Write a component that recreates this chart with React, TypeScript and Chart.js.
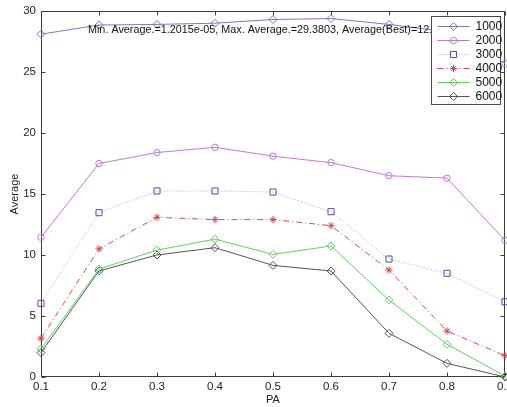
import React, { useEffect, useRef } from "react";
import { Chart, registerables } from "chart.js";

Chart.register(...registerables);

// PA values along the x axis
const PA = [0.1, 0.2, 0.3, 0.4, 0.5, 0.6, 0.7, 0.8, 0.9];
const Y_TICKS = [0, 5, 10, 15, 20, 25, 30];

// Average per PA for each population size
const S1000 = [28.1, 28.85, 28.9, 29.0, 29.3, 29.3803, 28.9, 28.3, 25.7];
const S2000 = [11.45, 17.5, 18.4, 18.83, 18.1, 17.57, 16.5, 16.3, 11.2];
const S3000 = [6.04, 13.47, 15.25, 15.25, 15.16, 13.55, 9.67, 8.5, 6.17];
const S4000 = [3.17, 10.5, 13.09, 12.9, 12.9, 12.4, 8.77, 3.77, 1.75];
const S5000 = [2.3, 8.85, 10.4, 11.3, 10.05, 10.74, 6.3, 2.68, 0.08];
const S6000 = [2.0, 8.7, 10.0, 10.6, 9.15, 8.69, 3.58, 1.12, 0.000012015];

const SERIES_LABELS = ["1000", "2000", "3000", "4000", "5000", "6000"];
const NOTE =
  "Min. Average.=1.2015e-05, Max. Average.=29.3803, Average(Best)=12.3456";

const FONT = "'Liberation Sans', Arial, Helvetica, sans-serif";
const CANVAS_W = 520;
const CANVAS_H = 407;

const toPoints = (vals: number[]) => vals.map((v, i) => ({ x: PA[i], y: v }));

// Box around the axes with inward tick marks on all four sides
const framePlugin = {
  id: "frame",
  beforeDatasetsDraw(chart: any) {
    const { ctx, chartArea } = chart;
    const { left, right, top, bottom } = chartArea;
    const xs = chart.scales.x;
    const ys = chart.scales.y;
    const L = Math.round(left) + 0.5;
    const R = Math.round(right) - 0.5;
    const T = Math.round(top) + 0.5;
    const B = Math.round(bottom) - 0.5;
    ctx.save();
    ctx.strokeStyle = "#3c3c3c";
    ctx.lineWidth = 1;
    ctx.beginPath();
    ctx.rect(L, T, R - L, B - T);
    const tl = 4;
    PA.forEach((v) => {
      const px = Math.round(xs.getPixelForValue(v)) + 0.5;
      ctx.moveTo(px, B);
      ctx.lineTo(px, B - tl);
      ctx.moveTo(px, T);
      ctx.lineTo(px, T + tl);
    });
    Y_TICKS.forEach((v) => {
      const py = Math.round(ys.getPixelForValue(v)) + 0.5;
      ctx.moveTo(L, py);
      ctx.lineTo(L + tl, py);
      ctx.moveTo(R, py);
      ctx.lineTo(R - tl, py);
    });
    ctx.stroke();
    ctx.restore();
  },
};

// Summary text inside the axes, then the legend box on top of it
const overlayPlugin = {
  id: "overlay",
  afterDatasetsDraw(chart: any) {
    const { ctx, chartArea } = chart;
    const xs = chart.scales.x;
    const ys = chart.scales.y;
    ctx.save();
    ctx.font = `10.8px ${FONT}`;
    ctx.fillStyle = "#111";
    ctx.textBaseline = "middle";
    ctx.textAlign = "left";
    ctx.fillText(NOTE, xs.getPixelForValue(0.181), ys.getPixelForValue(28.45));

    // legend
    const bw = 69;
    const bh = 88;
    const bx = Math.round(chartArea.right) - 5 - bw + 0.5;
    const by = Math.round(chartArea.top) + 5 + 0.5;
    ctx.fillStyle = "#ffffff";
    ctx.fillRect(bx, by, bw, bh);
    ctx.strokeStyle = "#4a4a4a";
    ctx.lineWidth = 1;
    ctx.strokeRect(bx, by, bw, bh);

    chart.data.datasets.forEach((ds: any, i: number) => {
      const cy = Math.round(by + 9 + i * 14) + 0.5;
      ctx.save();
      ctx.strokeStyle = ds.borderColor;
      ctx.lineWidth = 1;
      ctx.setLineDash(ds.borderDash || []);
      ctx.beginPath();
      ctx.moveTo(bx + 6, cy);
      ctx.lineTo(bx + 38, cy);
      ctx.stroke();
      ctx.restore();
      const el = chart.getDatasetMeta(i).data[0];
      if (el) {
        // reuse the dataset's own point element for the legend marker
        const saveX = el.x;
        const saveY = el.y;
        el.x = bx + 22;
        el.y = cy;
        el.draw(ctx, { left: 0, top: 0, right: CANVAS_W, bottom: CANVAS_H });
        el.x = saveX;
        el.y = saveY;
      }
      ctx.fillStyle = "#111";
      ctx.font = `12px ${FONT}`;
      ctx.textBaseline = "middle";
      ctx.textAlign = "left";
      ctx.fillText(SERIES_LABELS[i], bx + 44, cy + 0.5);
    });
    ctx.restore();
  },
};

export default function App() {
  const ref = useRef<HTMLCanvasElement | null>(null);

  useEffect(() => {
    if (!ref.current) return;
    const mk = (
      label: string,
      vals: number[],
      line: string,
      marker: string,
      style: string,
      radius: number,
      dash: number[] = []
    ) => ({
      label,
      data: toPoints(vals),
      borderColor: line,
      borderWidth: 1,
      borderDash: dash,
      pointStyle: style,
      pointRadius: radius,
      pointBorderColor: marker,
      pointBackgroundColor: "rgba(0,0,0,0)",
      pointBorderWidth: 1,
      tension: 0,
      fill: false,
      clip: false,
    });

    const tickFont = { family: FONT, size: 11.5 };
    const titleFont = { family: FONT, size: 11 };

    const chart = new Chart(ref.current, {
      type: "line",
      data: {
        datasets: [
          mk("1000", S1000, "#7a7ac4", "#7a7ac4", "rectRot", 4),
          mk("2000", S2000, "#c477d8", "#c477d8", "circle", 3.2),
          mk("3000", S3000, "#a8a8c8", "#4f4fa6", "rect", 4.3, [1, 2]),
          mk("4000", S4000, "#d05050", "#d04040", "star", 3.6, [6, 3, 1, 3]),
          mk("5000", S5000, "#62d062", "#62d062", "rectRot", 4),
          mk("6000", S6000, "#555555", "#555555", "rectRot", 4),
        ] as any,
      },
      options: {
        responsive: false,
        animation: false,
        devicePixelRatio: 1,
        layout: { padding: { top: 11, right: CANVAS_W - 505, left: 0, bottom: 0 } },
        plugins: {
          legend: { display: false },
          tooltip: { enabled: false },
        },
        scales: {
          x: {
            type: "linear",
            min: 0.1,
            max: 0.9,
            grid: { display: false, drawTicks: false, tickLength: 0 },
            border: { display: false },
            ticks: {
              color: "#222",
              font: tickFont,
              padding: 3,
              maxRotation: 0,
              callback: (v: any) => String(Math.round(Number(v) * 10) / 10),
            },
            afterBuildTicks: (s: any) => {
              s.ticks = PA.map((v) => ({ value: v }));
            },
            afterFit: (s: any) => {
              s.height = 30;
              s.paddingLeft = 0;
              s.paddingRight = 0;
            },
            title: {
              display: true,
              text: "PA",
              color: "#222",
              font: titleFont,
              padding: { top: 0, bottom: 0 },
            },
          },
          y: {
            type: "linear",
            min: 0,
            max: 30,
            grid: { display: false, drawTicks: false, tickLength: 0 },
            border: { display: false },
            ticks: {
              color: "#222",
              font: tickFont,
              padding: 5,
            },
            afterBuildTicks: (s: any) => {
              s.ticks = Y_TICKS.map((v) => ({ value: v }));
            },
            afterFit: (s: any) => {
              s.width = 41;
              s.paddingTop = 0;
              s.paddingBottom = 0;
            },
            title: {
              display: true,
              text: "Average",
              color: "#222",
              font: titleFont,
              padding: { top: 8, bottom: 0 },
            },
          },
        },
      } as any,
      plugins: [framePlugin, overlayPlugin],
    });
    return () => chart.destroy();
  }, []);

  return (
    <div
      style={{
        position: "fixed",
        left: 0,
        top: 0,
        width: 507,
        height: 407,
        overflow: "hidden",
        background: "#fff",
      }}
    >
      <canvas
        ref={ref}
        width={CANVAS_W}
        height={CANVAS_H}
        style={{ position: "absolute", left: 0, top: 0, width: CANVAS_W, height: CANVAS_H }}
      />
    </div>
  );
}
